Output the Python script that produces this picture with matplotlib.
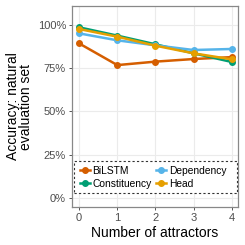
import matplotlib
matplotlib.use("Agg")
import matplotlib.pyplot as plt
from matplotlib.patches import Rectangle
from matplotlib.ticker import PercentFormatter

plt.rcParams['font.family'] = ['Liberation Sans', 'DejaVu Sans']

attractors = [0, 1, 2, 3, 4]
bilstm = [0.892, 0.767, 0.787, 0.802, 0.813]
constituency = [0.985, 0.937, 0.887, 0.835, 0.785]
dependency = [0.950, 0.910, 0.881, 0.854, 0.860]
head = [0.975, 0.931, 0.879, 0.835, 0.800]

series = [
    ("BiLSTM", bilstm, "#D55E00"),
    ("Constituency", constituency, "#009E73"),
    ("Dependency", dependency, "#56B4E9"),
    ("Head", head, "#E69F00"),
]

fig = plt.figure(figsize=(2.45, 2.45), dpi=100)
ax = fig.add_axes([0.295, 0.155, 0.675, 0.8205])

for name, vals, col in series:
    ax.plot(attractors, vals, color=col, lw=1.8, marker='o', ms=4, label=name)

ax.set_xlim(-0.18, 4.155)
ax.set_ylim(-0.052, 1.108)
ax.set_xticks(attractors)
ax.set_yticks([0, 0.25, 0.5, 0.75, 1.0])
ax.yaxis.set_major_formatter(PercentFormatter(1.0, decimals=0))
ax.grid(True, color='#EBEBEB', lw=0.8)
ax.set_axisbelow(True)
for s in ax.spines.values():
    s.set_color('#888888')
    s.set_linewidth(0.9)
ax.tick_params(colors='#4D4D4D', labelsize=8, length=2.5, width=0.7, pad=2)
ax.tick_params(axis='both', color='#555555')

ax.set_xlabel("Number of attractors", fontsize=10, labelpad=2)
ax.set_ylabel("Accuracy: natural\nevaluation set", fontsize=10, labelpad=3, linespacing=0.95)

# dashed legend box (drawn separately, ggplot style)
box = Rectangle((0.008, 0.07), 0.986, 0.159, transform=ax.transAxes,
                fill=True, facecolor='white', edgecolor='#333333',
                linestyle=(0, (2, 2)), linewidth=0.8, zorder=4)
ax.add_patch(box)

leg = ax.legend(loc='center left', bbox_to_anchor=(0.045, 0.148), ncol=2, fontsize=7.4,
                frameon=False, handlelength=1.0, handletextpad=0.25,
                columnspacing=0.4, borderpad=0.0, labelspacing=0.3,
                borderaxespad=0.0)
leg.set_zorder(5)

fig.savefig("out.png", dpi=100)
